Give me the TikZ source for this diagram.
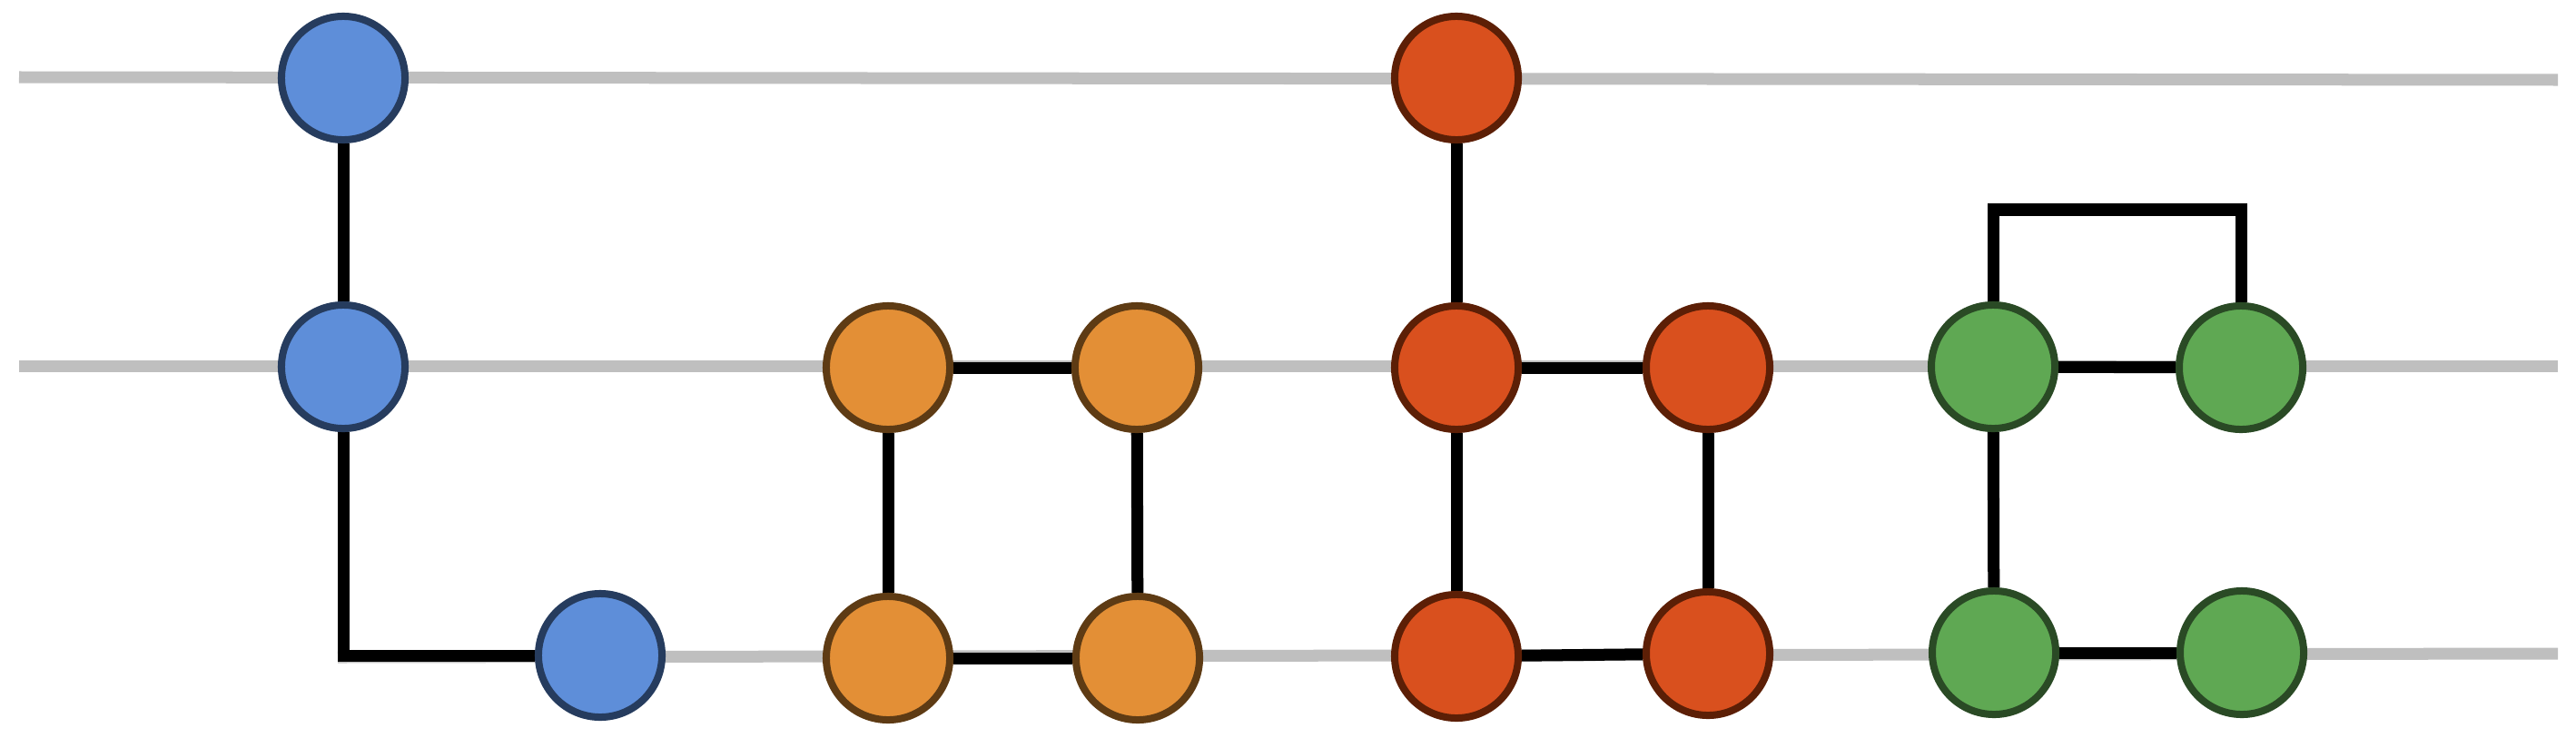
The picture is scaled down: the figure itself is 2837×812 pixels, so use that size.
\documentclass[tikz,border=0pt]{standalone}
\usetikzlibrary{backgrounds}
\definecolor{wire}{HTML}{BFBFBF}
\definecolor{bluefill}{HTML}{5E8ED9}
\definecolor{blueline}{HTML}{263C5E}
\definecolor{orangefill}{HTML}{E38F36}
\definecolor{orangeline}{HTML}{5E3B14}
\definecolor{redfill}{HTML}{D9501E}
\definecolor{redline}{HTML}{5C1F06}
\definecolor{greenfill}{HTML}{5FA853}
\definecolor{greenline}{HTML}{2A4A25}
\begin{document}
\begin{tikzpicture}[x=0.01cm, y=-0.01cm,
  qubit/.style={circle, inner sep=0pt, minimum size=1.36cm, line width=0.08cm},
  bluequbit/.style={qubit, fill=bluefill, draw=blueline},
  orangequbit/.style={qubit, fill=orangefill, draw=orangeline},
  redqubit/.style={qubit, fill=redfill, draw=redline},
  greenqubit/.style={qubit, fill=greenfill, draw=greenline},
  wireline/.style={wire, line width=0.13cm},
  link/.style={black, line width=0.13cm}]
  \useasboundingbox (0,0) rectangle (2837,812);

  % Points
  \node[bluequbit] (b1) at (378,86) {};
  \node[bluequbit] (b2) at (378,404) {};
  \node[bluequbit] (b3) at (661,722) {};

  \node[orangequbit] (o1) at (978,405) {};
  \node[orangequbit] (o2) at (1252,405) {};
  \node[orangequbit] (o3) at (978,725) {};
  \node[orangequbit] (o4) at (1253,725) {};

  \node[redqubit] (r1) at (1604,86) {};
  \node[redqubit] (r2) at (1604,405) {};
  \node[redqubit] (r3) at (1881,405) {};
  \node[redqubit] (r4) at (1604,723) {};
  \node[redqubit] (r5) at (1881,720) {};

  \node[greenqubit] (g1) at (2195,404) {};
  \node[greenqubit] (g2) at (2468,405) {};
  \node[greenqubit] (g3) at (2196,719) {};
  \node[greenqubit] (g4) at (2469,719) {};

  \coordinate (top) at (0,231);
  \coordinate (w1a) at (21,85);
  \coordinate (w1b) at (2817,88);
  \coordinate (w2a) at (21,403);
  \coordinate (w2b) at (2817,403);
  \coordinate (w3a) at (372,724);
  \coordinate (w3b) at (2817,720);

  \begin{scope}[on background layer]
    % Wires
    \draw[wireline] (w1a) -- (w1b);
    \draw[wireline] (w2a) -- (w2b);
    \draw[wireline] (w3a) -- (w3b);

    % Links
    \draw[link] (b1) -- (b2);
    \draw[link] (b2) |- (b3);

    \draw[link] (o1) -- (o2);
    \draw[link] (o1) -- (o3);
    \draw[link] (o2) -- (o4);
    \draw[link] (o3) -- (o4);

    \draw[link] (r1) -- (r2);
    \draw[link] (r2) -- (r3);
    \draw[link] (r2) -- (r4);
    \draw[link] (r3) -- (r5);
    \draw[link] (r4) -- (r5);

    \draw[link] (g1) -- (g2);
    \draw[link] (g1) -- (g3);
    \draw[link] (g3) -- (g4);
    \draw[link] (g1) -- (g1 |- top) -| (g2);
  \end{scope}
\end{tikzpicture}
\end{document}
